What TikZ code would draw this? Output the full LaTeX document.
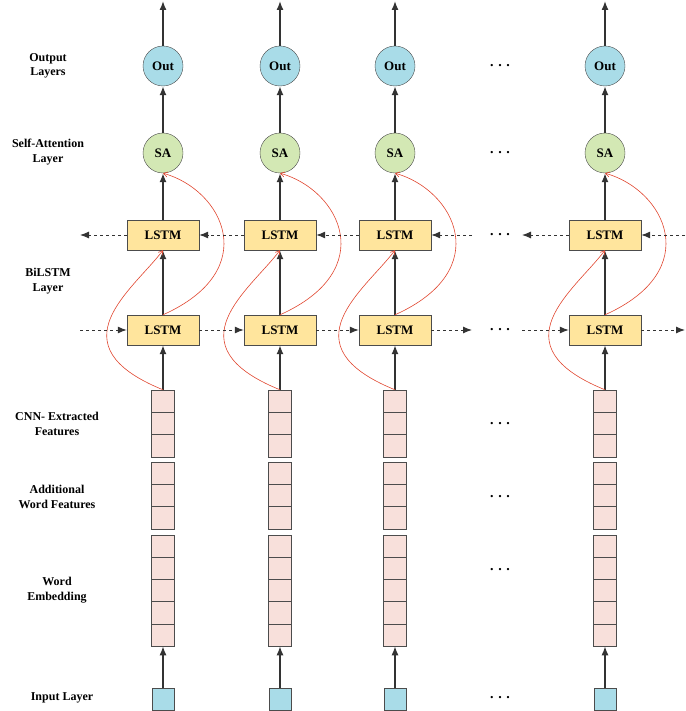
\documentclass[tikz,border=0pt]{standalone}
\usepackage{tikz}
\usepackage{fontspec}
\setmainfont{Liberation Serif}
\usetikzlibrary{arrows.meta}
\definecolor{outblue}{HTML}{A9DCE8}
\definecolor{sagreen}{HTML}{D3E8B4}
\definecolor{lstmyel}{HTML}{FFE59D}
\definecolor{featpink}{HTML}{F8E0DB}
\definecolor{curvered}{HTML}{E0452E}
\tikzset{
  circ/.style={circle, draw=black!70, minimum size=40pt, inner sep=0pt, font=\bfseries\fontsize{13}{15}\selectfont},
  lstm/.style={rectangle, draw=black!70, fill=lstmyel, minimum width=72pt, minimum height=30pt, font=\bfseries\fontsize{13}{15}\selectfont},
  cell/.style={rectangle, draw=black!70, fill=featpink, minimum width=23pt, minimum height=22.3pt, inner sep=0pt},
  inbox/.style={rectangle, draw=black!70, fill=outblue, minimum size=22pt, inner sep=0pt},
  up/.style={-{Latex[length=9pt,width=7pt]}, line width=1.4pt, black!80},
  recur/.style={-{Latex[length=9pt,width=7pt]}, dashed, line width=1pt, black!80},
  skip/.style={-{Straight Barb[length=4pt,width=5pt]}, curvered, line width=0.6pt},
  lab/.style={font=\bfseries\fontsize{12}{14.5}\selectfont, align=center},
  more/.style={font=\bfseries\fontsize{14}{16}\selectfont}
}
\begin{document}
\begin{tikzpicture}[x=1pt, y=-1pt]
\useasboundingbox (0,0) rectangle (685,711);

% left labels
\node[lab] (lout) at (48,66) {Output\\Layers};
\node[lab] (lsa) at (48,152) {Self-Attention\\Layer};
\node[lab] (lbi) at (48,281) {BiLSTM\\Layer};
\node[lab] (lcnn) at (57,424) {CNN- Extracted\\Features};
\node[lab] (ladd) at (57,497) {Additional\\Word Features};
\node[lab] (lemb) at (57,590) {Word\\Embedding};
\node[lab] (lin) at (62,698) {Input Layer};

% columns
\foreach \c/\x in {a/163,b/280,c/395,d/605}
{
    \node[circ, fill=outblue] (out\c) at (\x,66) {Out};
    \node[circ, fill=sagreen] (sa\c) at (\x,153) {SA};
    \node[lstm] (bw\c) at (\x,235) {LSTM};
    \node[lstm] (fw\c) at (\x,330) {LSTM};
    \foreach \k in {1,...,3}
        \node[cell] (cnn\c\k) at (\x,390+22.3*\k-11.15) {};
    \foreach \k in {1,...,3}
        \node[cell] (add\c\k) at (\x,462+22.3*\k-11.15) {};
    \foreach \k in {1,...,5}
        \node[cell] (emb\c\k) at (\x,535+22.2*\k-11.1) {};
    \node[inbox] (in\c) at (\x,699) {};
    \coordinate (top\c) at (\x,1);

    \draw[up] (in\c) -- (emb\c5);
    \draw[up] (cnn\c1) -- (fw\c);
    \draw[up] (fw\c) -- (bw\c);
    \draw[up] (bw\c) -- (sa\c);
    \draw[up] (sa\c) -- (out\c);
    \draw[up] (out\c) -- (top\c);

    % skip connections
    \draw[skip] (cnn\c1.north) .. controls (\x-110,345) and (\x-30,290) .. (bw\c.south);
    \draw[skip] (fw\c.north) .. controls (\x+100,270) and (\x+60,190) .. (sa\c.south);
}

% dots
\foreach \y in {66,153,235,330,424,497,570,698}
    \node[more] (dots\y) at (500,\y) {. . .};

% recurrent connections
\coordinate (fstart) at (80,330);
\coordinate (fend) at (685,330);
\coordinate (bstart) at (685,235);
\coordinate (bend) at (80,235);
\coordinate (fd1) at (472,330);
\coordinate (fd2) at (522,330);
\coordinate (bd1) at (522,235);
\coordinate (bd2) at (472,235);
\draw[recur] (fstart) -- (fwa);
\draw[recur] (fwa) -- (fwb);
\draw[recur] (fwb) -- (fwc);
\draw[recur] (fwc) -- (fd1);
\draw[recur] (fd2) -- (fwd);
\draw[recur] (fwd) -- (fend);
\draw[recur] (bstart) -- (bwd);
\draw[recur] (bwd.west) -- (bd1);
\draw[recur] (bd2) -- (bwc);
\draw[recur] (bwc) -- (bwb);
\draw[recur] (bwb) -- (bwa);
\draw[recur] (bwa) -- (bend);
\end{tikzpicture}
\end{document}
